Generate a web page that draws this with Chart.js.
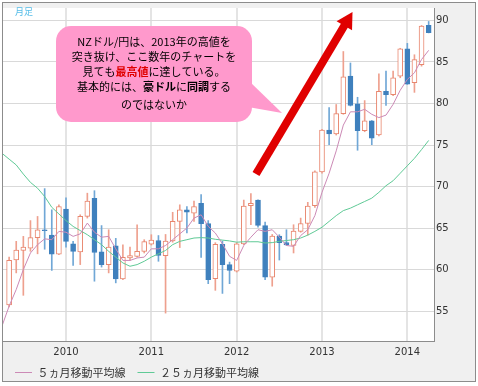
<!DOCTYPE html>
<html>
<head>
<meta charset="utf-8">
<script src="https://cdn.jsdelivr.net/npm/chart.js@4.4.0/dist/chart.umd.min.js"></script>
<style>
  html, body { margin: 0; padding: 0; background: #fff; }
</style>
</head>
<body>
<canvas id="nzdChart" width="478" height="386"></canvas>
<script>
// monthly candles, Apr 2009 .. Apr 2014 (Apr 2009 only carries the moving averages)
const months = [
  '2009-04', '2009-05', '2009-06', '2009-07', '2009-08', '2009-09', '2009-10', '2009-11', '2009-12',
  '2010-01', '2010-02', '2010-03', '2010-04', '2010-05', '2010-06', '2010-07', '2010-08', '2010-09', '2010-10', '2010-11', '2010-12',
  '2011-01', '2011-02', '2011-03', '2011-04', '2011-05', '2011-06', '2011-07', '2011-08', '2011-09', '2011-10', '2011-11', '2011-12',
  '2012-01', '2012-02', '2012-03', '2012-04', '2012-05', '2012-06', '2012-07', '2012-08', '2012-09', '2012-10', '2012-11', '2012-12',
  '2013-01', '2013-02', '2013-03', '2013-04', '2013-05', '2013-06', '2013-07', '2013-08', '2013-09', '2013-10', '2013-11', '2013-12',
  '2014-01', '2014-02', '2014-03', '2014-04'
];

const open = [null,
  55.75, 61.15, 62.3, 62.57, 63.84, 64.8, 64.15, 61.86,
  67.3, 63.1, 62.14, 66.4, 68.57, 62.14, 60.6, 62.85, 58.87, 61.39, 61.6, 62.2,
  63.05, 63.5, 61.67, 63.44, 65.8, 67.2, 66.8, 67.98, 65.53, 58.9, 63.05, 60.6,
  59.8, 63.1, 67.7, 68.37, 65.3, 59.1, 64.03, 63.24, 62.9, 64.6, 65.55, 67.7,
  71.77, 76.8, 76.34, 78.78, 83.3, 79.96, 76.73, 77.9, 76.22, 81.46, 81.06, 83.3,
  86.57, 82.52, 84.69, 89.4
];
const high = [null,
  61.5, 63.4, 64.0, 65.9, 66.4, 69.75, 67.2, 67.8,
  68.65, 63.4, 66.6, 69.2, 69.5, 65.3, 64.8, 63.76, 62.97, 62.7, 65.4, 63.6,
  64.2, 64.1, 64.23, 66.9, 67.8, 67.6, 68.25, 69.04, 65.9, 63.24, 63.44, 60.9,
  63.24, 68.37, 69.16, 68.4, 65.73, 64.23, 64.2, 64.8, 65.4, 66.2, 68.1, 71.9,
  76.9, 79.5, 79.88, 86.26, 84.88, 80.75, 80.35, 77.95, 83.58, 83.9, 83.9, 86.65,
  87.24, 85.87, 89.4, 89.88
];
const low = [null,
  55.5, 59.6, 56.9, 62.2, 61.9, 62.45, 59.9, 61.8,
  62.7, 60.5, 60.6, 66.2, 58.6, 60.3, 59.6, 58.4, 58.8, 61.1, 61.5, 62.0,
  62.95, 61.0, 54.76, 63.3, 62.65, 64.4, 65.8, 61.47, 58.3, 57.5, 57.13, 58.3,
  59.7, 63.0, 65.4, 65.1, 58.8, 58.0, 61.15, 62.9, 62.0, 64.5, 64.15, 67.5,
  71.6, 75.04, 76.2, 78.7, 79.7, 74.37, 76.6, 75.04, 76.1, 79.76, 80.95, 83.1,
  82.3, 81.34, 84.5, 88.5
];
const close = [null,
  61.1, 62.34, 62.7, 63.84, 64.8, 64.7, 61.86, 67.6,
  63.4, 62.2, 66.4, 68.25, 62.06, 60.6, 62.7, 58.87, 61.47, 61.7, 62.2, 63.36,
  63.56, 61.7, 63.44, 65.8, 67.2, 66.9, 67.6, 65.53, 58.79, 63.05, 60.6, 59.9,
  63.1, 67.66, 67.98, 65.33, 59.1, 64.03, 63.24, 62.97, 64.65, 65.55, 67.65, 71.77,
  76.8, 76.34, 78.78, 83.2, 79.76, 76.73, 77.9, 75.83, 81.46, 81.06, 83.1, 86.57,
  82.32, 85.28, 89.33, 88.54
];

// moving averages
const ma5 = [53.2,
  55.6, 57.6, 60.0, 62.0, 63.0, 63.7, 63.6, 64.6,
  64.5, 64.0, 64.3, 65.6, 64.5, 63.9, 64.0, 62.5, 61.1, 61.1, 61.4, 61.5,
  62.5, 62.5, 62.9, 63.6, 64.3, 65.0, 66.2, 66.6, 65.2, 64.4, 63.1, 61.6,
  61.1, 62.9, 63.9, 64.8, 64.6, 64.8, 63.9, 62.9, 62.8, 64.1, 64.8, 66.5,
  69.3, 71.6, 74.3, 77.4, 79.0, 79.0, 79.3, 78.7, 78.3, 78.6, 79.9, 81.6,
  82.9, 83.7, 85.3, 86.4
];
const ma25 = [74.0,
  73.3, 72.6, 71.5, 70.5, 69.8, 68.8, 67.5, 66.7,
  65.9, 65.2, 64.7, 64.2, 63.6, 63.0, 62.2, 61.5, 60.8, 60.4, 60.6, 61.0,
  61.5, 61.9, 62.3, 63.0, 63.4, 63.6, 63.8, 63.85, 63.8, 63.65, 63.55, 63.45,
  63.3, 63.35, 63.35, 63.35, 63.2, 63.25, 63.4, 63.5, 63.6, 63.8, 64.15, 64.6,
  65.1, 65.8, 66.5, 67.1, 67.4, 67.8, 68.2, 68.6, 69.3, 70.1, 70.7, 71.6,
  72.5, 73.4, 74.45, 75.55
];

const years = ['2010', '2011', '2012', '2013', '2014'];
const yTicks = [55, 60, 65, 70, 75, 80, 85, 90];
const seriesNames = ['５ヵ月移動平均線', '２５ヵ月移動平均線'];

// speech bubble text: 0 normal, 1 bold, 2 bold red
const bubbleLines = [
  [['NZドル/円は、2013年の高値を', 0]],
  [['突き抜け、ここ数年のチャートを', 0]],
  [['見ても', 0], ['最高値', 2], ['に達している。', 0]],
  [['基本的には、', 0], ['豪ドル', 1], ['に', 0], ['同調', 1], ['する', 0]],
  [['のではないか', 0]]
];

const JP = '"Noto Sans CJK JP", "Noto Sans", sans-serif';
const UP_LINE = '#e8866e', UP_WICK = '#eea08e';
const DOWN_BODY = '#3f80bd', DOWN_WICK = '#70a7d6';

const candleIdx = months.map((m, i) => i).filter(i => open[i] !== null);
const isUp = i => close[i] >= open[i];
const janIdx = years.map(y => months.indexOf(y + '-01'));

const decor = {
  id: 'decor',
  beforeDraw(chart) {
    const {ctx, chartArea: a, width, height} = chart;
    ctx.save();
    ctx.fillStyle = '#fff';
    ctx.fillRect(0, 0, width, height);
    ctx.fillStyle = '#f0f0f0';
    ctx.fillRect(2, 2, 474, 380);
    ctx.fillStyle = '#fff';
    ctx.fillRect(a.left, a.top, a.right - a.left, a.bottom - a.top);
    ctx.strokeStyle = '#8c8c8c';
    ctx.lineWidth = 1;
    ctx.strokeRect(2.5, 2.5, 473, 379);
    ctx.restore();
  },
  afterDatasetsDraw(chart) {
    const ctx = chart.ctx;
    ctx.save();

    // 月足
    ctx.fillStyle = '#55bde8';
    ctx.font = '9px ' + JP;
    ctx.textBaseline = 'middle';
    ctx.fillText('月足', 15, 12);

    // bubble
    ctx.fillStyle = '#ff99cc';
    ctx.beginPath();
    ctx.roundRect(56, 26, 196, 96, 15);
    ctx.fill();
    ctx.beginPath();
    ctx.moveTo(248, 80);
    ctx.lineTo(282, 113);
    ctx.lineTo(248, 107);
    ctx.closePath();
    ctx.fill();

    const lineY = [42, 57, 71.5, 86.5, 105];
    bubbleLines.forEach((runs, li) => {
      const fonts = runs.map(r => (r[1] ? 'bold ' : '') + '11px ' + JP);
      const widths = runs.map((r, k) => { ctx.font = fonts[k]; return ctx.measureText(r[0]).width; });
      let x = 154 - widths.reduce((s, w) => s + w, 0) / 2;
      runs.forEach((r, k) => {
        ctx.font = fonts[k];
        ctx.fillStyle = r[1] === 2 ? '#e00000' : '#000';
        ctx.textAlign = 'left';
        ctx.fillText(r[0], x, lineY[li]);
        x += widths[k];
      });
    });

    // red arrow
    const sx = 256, sy = 174, tx = 352.5, ty = 12;
    const len = Math.hypot(tx - sx, ty - sy);
    const dx = (tx - sx) / len, dy = (ty - sy) / len;
    const bx = tx - dx * 16, by = ty - dy * 16;
    ctx.strokeStyle = '#e00000';
    ctx.fillStyle = '#e00000';
    ctx.lineWidth = 8;
    ctx.beginPath();
    ctx.moveTo(sx, sy);
    ctx.lineTo(bx + dx * 2, by + dy * 2);
    ctx.stroke();
    ctx.beginPath();
    ctx.moveTo(tx, ty);
    ctx.lineTo(bx - dy * 9, by + dx * 9);
    ctx.lineTo(bx + dy * 9, by - dx * 9);
    ctx.closePath();
    ctx.fill();

    ctx.restore();
  }
};

new Chart(document.getElementById('nzdChart'), {
  type: 'bar',
  data: {
    datasets: [
      {
        label: 'wick',
        data: candleIdx.map(i => ({x: i, y: [low[i], high[i]]})),
        backgroundColor: candleIdx.map(i => isUp(i) ? UP_WICK : DOWN_WICK),
        barThickness: 1,
        grouped: false,
        order: 3
      },
      {
        label: 'body',
        data: candleIdx.map(i => ({x: i, y: [open[i], close[i]]})),
        backgroundColor: candleIdx.map(i => isUp(i) ? '#ffffff' : DOWN_BODY),
        borderColor: candleIdx.map(i => isUp(i) ? UP_LINE : DOWN_BODY),
        borderWidth: 1,
        borderSkipped: false,
        barThickness: 5,
        grouped: false,
        order: 2
      },
      {
        type: 'line',
        label: seriesNames[0],
        data: ma5.map((v, i) => ({x: i, y: v})),
        borderColor: '#cc8ab6',
        borderWidth: 1,
        pointRadius: 0,
        order: 0
      },
      {
        type: 'line',
        label: seriesNames[1],
        data: ma25.map((v, i) => ({x: i, y: v})),
        borderColor: '#5fca96',
        borderWidth: 1,
        pointRadius: 0,
        order: 1
      }
    ]
  },
  options: {
    responsive: false,
    animation: false,
    layout: { padding: { left: 3, top: 3, right: 3, bottom: -2 } },
    plugins: {
      tooltip: { enabled: false },
      legend: {
        position: 'bottom',
        align: 'start',
        labels: {
          filter: item => item.datasetIndex >= 2,
          sort: (a, b) => a.datasetIndex - b.datasetIndex,
          usePointStyle: true,
          pointStyle: 'line',
          pointStyleWidth: 17,
          padding: 12,
          color: '#333',
          font: { family: JP, size: 11 }
        }
      }
    },
    scales: {
      x: {
        type: 'linear',
        position: 'bottom',
        offset: false,
        min: 0.14,
        max: 60.75,
        grid: { color: '#e4e4e4', lineWidth: 2, drawTicks: false, offset: false },
        border: { color: '#8c8c8c' },
        ticks: {
          padding: 5,
          maxRotation: 0,
          autoSkip: false,
          color: '#333',
          font: { family: 'DejaVu Sans', size: 10 },
          callback: v => months[v] ? months[v].slice(0, 4) : ''
        },
        afterBuildTicks: s => { s.ticks = janIdx.map(v => ({value: v})); },
        afterFit: s => { s.height = 14; }
      },
      y: {
        position: 'right',
        min: 51.4,
        max: 91.5,
        grid: { color: '#d9d9d9', drawTicks: false },
        border: { color: '#8c8c8c' },
        ticks: {
          padding: 2,
          color: '#333',
          font: { family: 'DejaVu Sans', size: 10 }
        },
        afterBuildTicks: s => { s.ticks = yTicks.map(v => ({value: v})); },
        afterFit: s => { s.width = 41; }
      }
    }
  },
  plugins: [decor]
});
</script>
</body>
</html>
